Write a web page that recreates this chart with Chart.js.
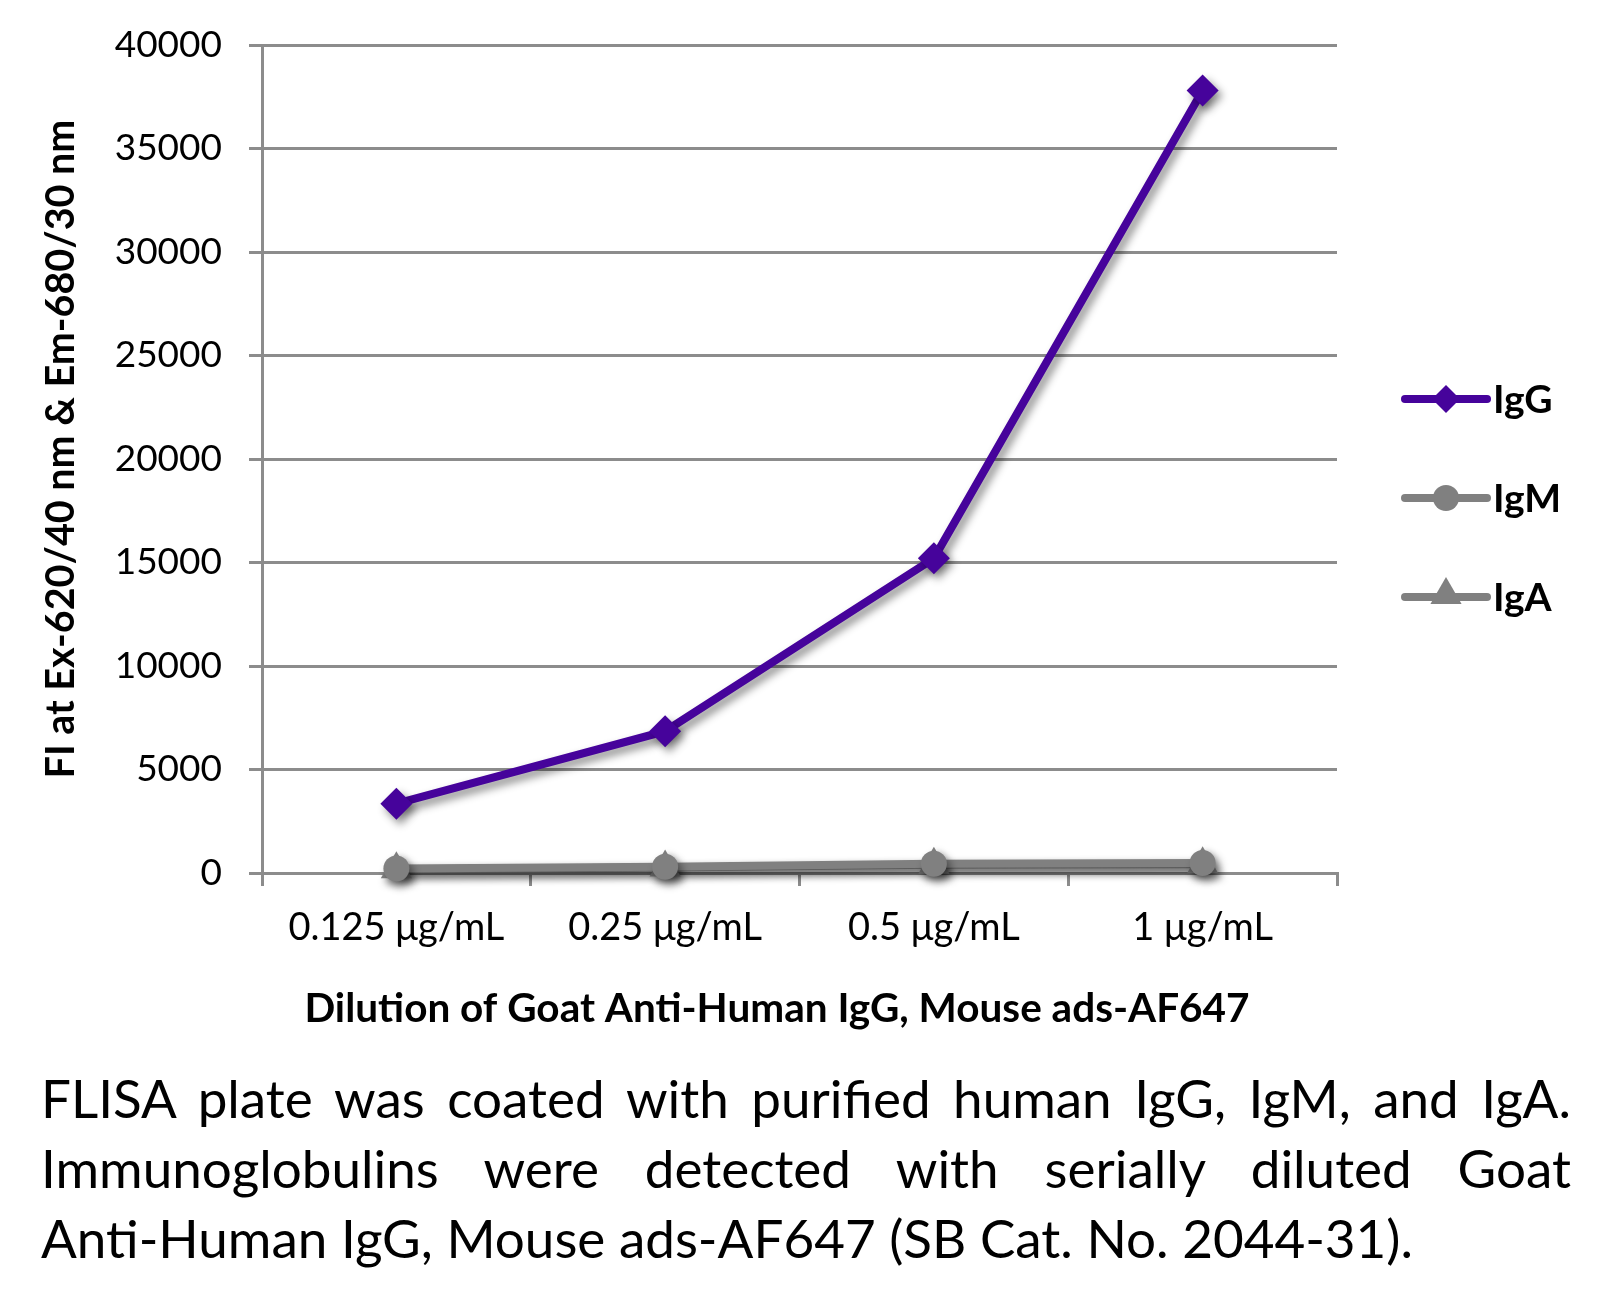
<!DOCTYPE html>
<html><head><meta charset="utf-8">
<script src="https://cdn.jsdelivr.net/npm/chart.js@4"></script>
<style>
html,body{margin:0;padding:0;background:#fff;width:1605px;height:1306px;overflow:hidden;}
#wrap{position:absolute;left:0;top:0;width:1605px;height:1030px;}
#caption{position:absolute;left:41px;top:1063px;width:1530px;font-family:Lato,sans-serif;font-size:53px;line-height:70px;color:#000;}
#caption div{white-space:nowrap;}
#caption .j{text-align:justify;text-align-last:justify;white-space:normal;}
</style>
</head><body>
<div id="wrap"><canvas id="c" width="1605" height="1030"></canvas></div>
<div id="caption">
<div class="j" id="l1">FLISA plate was coated with purified human IgG, IgM, and IgA.</div>
<div class="j" id="l2">Immunoglobulins were detected with serially diluted Goat</div>
<div id="l3">Anti-Human IgG, Mouse ads-AF647 (SB Cat. No. 2044-31).</div>
</div>
<script>
const categories = ['0.125 μg/mL', '0.25 μg/mL', '0.5 μg/mL', '1 μg/mL'];
const seriesNames = ['IgG', 'IgM', 'IgA'];
const igG = [3350, 6850, 15200, 37800];
const igM = [220, 300, 450, 480];
const igA = [180, 270, 400, 420];
const yMin = 0, yMax = 40000, yStep = 5000;
const xTitle = 'Dilution of Goat Anti-Human IgG, Mouse ads-AF647';
const yTitle = 'FI at Ex-620/40 nm & Em-680/30 nm';

const GRID = '#8c8c8c';
const PURPLE = '#46039b';
const GRAY = '#808080';

const shadowPlugin = {
  id: 'shadow',
  beforeDatasetsDraw(chart) {
    const ctx = chart.ctx;
    ctx.save();
    ctx.shadowColor = 'rgba(0,0,0,0.45)';
    ctx.shadowBlur = 9;
    ctx.shadowOffsetX = 4;
    ctx.shadowOffsetY = 5;
  },
  afterDatasetsDraw(chart) { chart.ctx.restore(); }
};

const axisTitles = {
  id: 'axisTitles',
  afterDraw(chart) {
    const ctx = chart.ctx;
    ctx.save();
    ctx.fillStyle = '#000';
    ctx.textAlign = 'center';
    ctx.textBaseline = 'middle';
    ctx.font = 'bold 40.5px Lato';
    ctx.fillText(xTitle, 777, 1009);
    ctx.translate(61, 449);
    ctx.rotate(-Math.PI / 2);
    ctx.font = 'bold 39.5px Lato';
    ctx.fillText(yTitle, 0, 0);
    ctx.restore();
  }
};

const lineLegend = {
  id: 'lineLegend',
  afterDraw(chart) {
    const ctx = chart.ctx;
    const rows = [399, 498, 597];
    const radii = [14, 13, 18];
    chart.data.datasets.forEach((ds, i) => {
      const y = rows[i];
      ctx.save();
      ctx.strokeStyle = ds.borderColor;
      ctx.lineWidth = 8;
      ctx.lineCap = 'round';
      ctx.beginPath(); ctx.moveTo(1405, y); ctx.lineTo(1487, y); ctx.stroke();
      ctx.fillStyle = ds.backgroundColor;
      ctx.strokeStyle = ds.borderColor;
      Chart.helpers.drawPoint(ctx, {pointStyle: ds.pointStyle, radius: radii[i], borderWidth: 0, rotation: 0}, 1446, i === 2 ? y - 2 : y);
      ctx.fillStyle = '#000';
      ctx.font = 'bold 39px Lato';
      ctx.textBaseline = 'middle';
      ctx.textAlign = 'left';
      ctx.fillText(ds.label, 1493, y + 1);
      ctx.restore();
    });
  }
};

const font = (size, weight) => ({family: 'Lato', size: size, weight: weight || 'normal'});

new Chart(document.getElementById('c'), {
  type: 'line',
  data: {
    labels: categories,
    datasets: [
      {label: seriesNames[0], data: igG, borderColor: PURPLE, backgroundColor: PURPLE, borderWidth: 8, pointStyle: 'rectRot', pointRadius: 16, pointBorderWidth: 0, clip: false, order: 3},
      {label: seriesNames[1], data: igM, borderColor: GRAY, backgroundColor: GRAY, borderWidth: 8, pointStyle: 'circle', pointRadius: 13, pointBorderWidth: 0, clip: false, order: 1},
      {label: seriesNames[2], data: igA, borderColor: GRAY, backgroundColor: GRAY, borderWidth: 8, pointStyle: 'triangle', pointRadius: 18, pointBorderWidth: 0, clip: false, order: 2}
    ]
  },
  options: {
    responsive: false,
    animation: false,
    devicePixelRatio: 1,
    layout: {padding: {left: 20, right: 268, top: 45, bottom: 0}},
    plugins: {legend: {display: false}, tooltip: {enabled: false}},
    scales: {
      x: {
        offset: true,
        grid: {offset: true, drawOnChartArea: false, drawTicks: true, tickLength: 13, color: GRID, lineWidth: 3},
        border: {color: GRID, width: 3},
        ticks: {font: font(38), color: '#000', padding: 19, maxRotation: 0},
        title: {display: false},
        afterFit: s => { s.height = 157; s.paddingLeft = 0; s.paddingRight = 0; }
      },
      y: {
        min: yMin, max: yMax,
        grid: {color: GRID, lineWidth: 3, tickLength: 13},
        border: {color: GRID, width: 3},
        ticks: {stepSize: yStep, font: font(37), color: '#000', padding: 27, callback: v => String(v)},
        title: {display: false},
        afterFit: s => { s.width = 242; s.paddingTop = 0; s.paddingBottom = 0; }
      }
    }
  },
  plugins: [shadowPlugin, lineLegend, axisTitles]
});
</script>
</body></html>
